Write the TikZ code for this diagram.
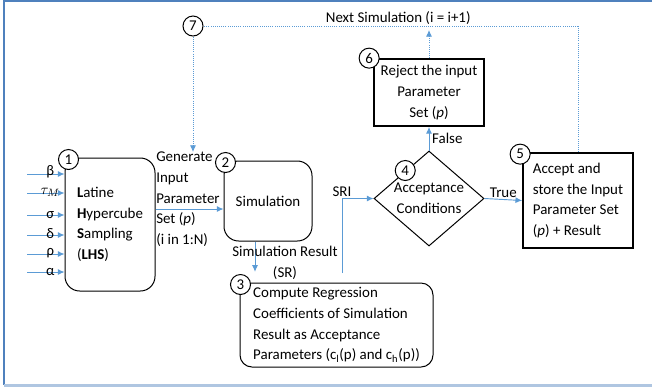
\documentclass[tikz,border=0pt]{standalone}
\usepackage{fontspec}
\setmainfont{Carlito}
\usetikzlibrary{arrows.meta,positioning,shapes.geometric,calc}

\definecolor{flowblue}{RGB}{91,155,213}
\definecolor{framedark}{RGB}{79,129,189}
\definecolor{framelight}{RGB}{175,198,225}

\begin{document}
\begin{tikzpicture}[
    x=0.75pt, y=-0.75pt,
    >={Latex[length=5pt,width=4.5pt]},
    font=\fontsize{11.2}{15.5}\selectfont,
    block/.style={draw, rounded corners=11pt, line width=0.75pt, align=left, inner sep=2pt},
    box/.style={draw, line width=1.3pt, align=center, inner sep=2pt},
    decide/.style={draw, diamond, line width=0.75pt, inner sep=0pt},
    num/.style={draw, circle, fill=white, minimum size=15pt, inner sep=0pt, line width=0.75pt},
    arr/.style={->, draw=flowblue, line width=0.7pt},
    back/.style={draw=flowblue, line width=0.6pt, densely dotted},
    lbl/.style={inner sep=1pt},
    inlab/.style={font=\fontsize{11}{12}\selectfont, inner sep=0pt, above, yshift=-3pt, pos=0.62}
]
    \useasboundingbox (0,0) rectangle (652,387);
    % frame
    \draw[framedark, line width=1.5pt] (652,1) -- (4,1) -- (4,385);
    \draw[framelight, line width=2.5pt] (4,385.5) -- (652,385.5);

    \node[block, minimum width=67.5pt, minimum height=99.75pt] (lhs) at (110,224.5) {\textbf{L}atine\\\textbf{H}ypercube\\\textbf{S}ampling\\(\textbf{LHS})};
    \node[block, align=center, minimum width=66pt, minimum height=60pt] (sim) at (268,201) {Simulation};
    \node[block, rounded corners=9pt, minimum width=144.75pt, minimum height=63pt] (coef) at (336.5,325) {Compute Regression\\Coefficients of Simulation\\Result as Acceptance\\Parameters (c\textsubscript{l}(p) and c\textsubscript{h}(p))};
    \node[decide, minimum width=82.5pt, minimum height=71.25pt] (cond) at (429,198.5) {};
    \node[lbl, align=center] (condtext) at (cond) {Acceptance\\Conditions};
    \node[box, minimum width=82.5pt, minimum height=50.25pt] (reject) at (429,92.5) {Reject the input\\Parameter\\Set (\textit{p})};
    \node[box, align=left, minimum width=82.5pt, minimum height=71.25pt] (accept) at (578,200.5) {Accept and\\store the Input\\Parameter Set\\(\textit{p}) + Result};

    \node[num] (n1) at ([shift={(4,2)}]lhs.north west) {1};
    \node[num] (n2) at ([shift={(2,2)}]sim.north west) {2};
    \node[num] (n3) at ([shift={(1,2)}]coef.north west) {3};
    \node[num] (n4) at ([shift={(4,-4)}]cond.north west) {4};
    \node[num] (n5) at ([shift={(-2,2)}]accept.north west) {5};
    \node[num] (n6) at ([shift={(-4,0)}]reject.north west) {6};
    \node[num] (n7) at (193,26) {7};

    % inputs of the sampling
    \coordinate (inb) at (27,174);
    \coordinate (int) at (27,193);
    \coordinate (ins) at (27,215);
    \coordinate (ind) at (27,235);
    \coordinate (inr) at (27,254);
    \coordinate (ina) at (27,272);
    \draw[arr] (inb) -- node[inlab] (lb) {β} (inb -| lhs.west);
    \draw[arr] (int) -- node[inlab] (lt) {$\tau_M$} (int -| lhs.west);
    \draw[arr] (ins) -- node[inlab] (ls) {σ} (ins -| lhs.west);
    \draw[arr] (ind) -- node[inlab] (ld) {δ} (ind -| lhs.west);
    \draw[arr] (inr) -- node[inlab] (lr) {ρ} (inr -| lhs.west);
    \draw[arr] (ina) -- node[inlab] (la) {α} (ina -| lhs.west);

    \coordinate (gin) at ([yshift=-6pt]sim.west);
    \draw[arr] (gin -| lhs.east) -- (gin);
    \node[lbl, inner sep=0pt, align=left, anchor=north west] (gen) at (156,152) {Generate\\Input\\Parameter\\Set (\textit{p})\\(i in 1:N)};

    \coordinate (srtop) at ([xshift=-9.75pt]sim.south);
    \draw[arr, shorten >=8pt] (srtop) -- (srtop |- coef.north);
    \node[lbl, align=center] (srlbl) at (285,263) {Simulation Result\\(SR)};

    \coordinate (srin) at (342,273);
    \draw[arr] (srin) |- node[lbl, above, pos=0.5] (srilbl) {SRI} (cond.west);
    \draw[arr] (cond.north) -- node[lbl, right, inner sep=2pt] (falselbl) {False} (reject.south);
    \draw[arr] (cond.east) -- node[lbl, above] (truelbl) {True} (accept.west);

    % next run
    \draw[back] (accept.north) |- node[lbl, above, pos=0.74] (nextlbl) {Next Simulation (i = i+1)} (n7.east);
    \draw[back, ->] (n7.south) -- (n7.south |- gen.north);
    \draw[back, ->, shorten >=3pt] (reject.north) -- (reject.north |- n7.east);
\end{tikzpicture}
\end{document}
